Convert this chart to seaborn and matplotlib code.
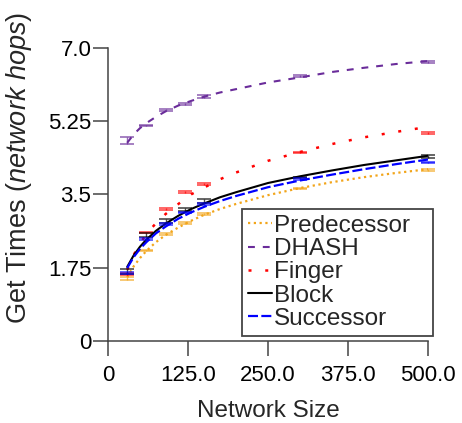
import matplotlib
matplotlib.use("Agg")
import matplotlib.pyplot as plt
import seaborn as sns

# measured points (mean + small error) per network size
sizes = [30, 60, 90, 120, 150, 300, 500]

pred_mean = [1.49, 2.16, 2.55, 2.82, 3.03, 3.64, 4.08]
pred_err = [0.04, 0.02, 0.02, 0.02, 0.02, 0.02, 0.02]
dhash_mean = [4.78, 5.14, 5.51, 5.66, 5.83, 6.33, 6.66]
dhash_err = [0.08, 0.02, 0.03, 0.03, 0.035, 0.02, 0.02]
finger_mean = [1.60, 2.59, 3.15, 3.56, 3.75, 4.50, 4.97]
finger_err = [0.02, 0.02, 0.02, 0.02, 0.02, 0.02, 0.02]
block_mean = [1.65, 2.52, 2.86, 3.14, 3.34, 3.90, 4.40]
block_err = [0.06, 0.05, 0.04, 0.04, 0.05, 0.02, 0.03]
succ_mean = [1.63, 2.43, 2.79, 3.07, 3.27, 3.86, 4.26]
succ_err = [0.02, 0.02, 0.02, 0.02, 0.02, 0.02, 0.01]

# trend curves
curve_x = [30, 40, 50, 60, 75, 90, 110, 130, 150, 175, 200, 250, 300, 350, 400, 450, 500]
pred_curve = [1.52, 1.78, 1.98, 2.15, 2.36, 2.53, 2.71, 2.87, 3.01, 3.15, 3.27, 3.48, 3.65, 3.79, 3.91, 4.01, 4.10]
dhash_curve = [4.73, 4.93, 5.08, 5.20, 5.35, 5.48, 5.62, 5.73, 5.83, 5.93, 6.01, 6.17, 6.29, 6.42, 6.52, 6.61, 6.68]
finger_curve = [1.70, 2.05, 2.32, 2.56, 2.81, 3.03, 3.27, 3.50, 3.66, 3.86, 4.02, 4.30, 4.51, 4.70, 4.86, 4.99, 5.11]
block_curve = [1.77, 2.04, 2.25, 2.42, 2.63, 2.80, 2.99, 3.15, 3.28, 3.43, 3.55, 3.77, 3.93, 4.07, 4.20, 4.31, 4.42]
succ_curve = [1.74, 2.00, 2.20, 2.36, 2.57, 2.73, 2.92, 3.07, 3.20, 3.34, 3.46, 3.67, 3.83, 3.97, 4.10, 4.22, 4.33]

x_ticks = [0, 125, 250, 375, 500]
x_labels = ["0", "125.0", "250.0", "375.0", "500.0"]
y_ticks = [0, 1.75, 3.5, 5.25, 7.0]
y_labels = ["0", "1.75", "3.5", "5.25", "7.0"]

sns.set_style("ticks")
plt.rcParams["font.family"] = ["Liberation Sans", "DejaVu Sans"]
plt.rcParams["mathtext.fontset"] = "custom"
plt.rcParams["mathtext.rm"] = "Liberation Sans"
plt.rcParams["mathtext.it"] = "Liberation Sans:italic"

fig = plt.figure(figsize=(4.62, 4.23), dpi=100)
ax = fig.add_axes([0.2338, 0.1939, 0.6926, 0.6934])

series = [
    ("Predecessor", pred_curve, pred_mean, pred_err, "#f2a51a", (0, (1, 1.6)), 1.6),
    ("DHASH", dhash_curve, dhash_mean, dhash_err, "#6a2c9a", (0, (3.3, 3.8)), 1.5),
    ("Finger", finger_curve, finger_mean, finger_err, "#ff0000", (0, (1.2, 5.5)), 1.8),
    ("Block", block_curve, block_mean, block_err, "#000000", "-", 1.5),
    ("Successor", succ_curve, succ_mean, succ_err, "#0000ff", (0, (4.5, 1.5)), 1.6),
]

for name, curve, mean, err, col, ls, lw in series:
    sns.lineplot(x=curve_x, y=curve, ax=ax, color=col, linestyle=ls,
                 linewidth=lw, label=name)
    ax.errorbar(sizes, mean, yerr=err, fmt="none", ecolor=col, elinewidth=1.0,
                capsize=5, capthick=1.2, alpha=0.7, clip_on=False)

ax.set_xlim(0, 500)
ax.set_ylim(0, 7.0)
ax.set_xticks(x_ticks)
ax.set_xticklabels(x_labels)
ax.set_yticks(y_ticks)
ax.set_yticklabels(y_labels)

for side in ["top", "right"]:
    ax.spines[side].set_visible(False)
for side in ["left", "bottom"]:
    ax.spines[side].set_color("#444444")
    ax.spines[side].set_linewidth(1.1)

ax.tick_params(axis="both", direction="out", length=11, width=1.1,
               color="#444444", labelsize=16, labelcolor="black")
ax.tick_params(axis="x", pad=6)
ax.tick_params(axis="y", pad=1)

ax.set_xlabel("Network Size", fontsize=17.5)
ax.xaxis.set_label_coords(0.5, -0.2)
ax.set_ylabel(r"Get Times $\mathit{(network\ hops)}$", fontsize=19.5)
ax.yaxis.set_label_coords(-0.232, 0.59)

leg = ax.legend(loc="lower left",
                bbox_to_anchor=(242 / 462, 1 - 336 / 423, 191 / 462, 0.3),
                bbox_transform=fig.transFigure, mode="expand",
                fontsize=17.5, frameon=True,
                fancybox=False, framealpha=1, edgecolor="#444444",
                borderpad=0.25, labelspacing=0.05, handlelength=1.0,
                handletextpad=0.05, borderaxespad=0)
leg.get_frame().set_linewidth(1.3)

fig.savefig("out.png", dpi=100)
